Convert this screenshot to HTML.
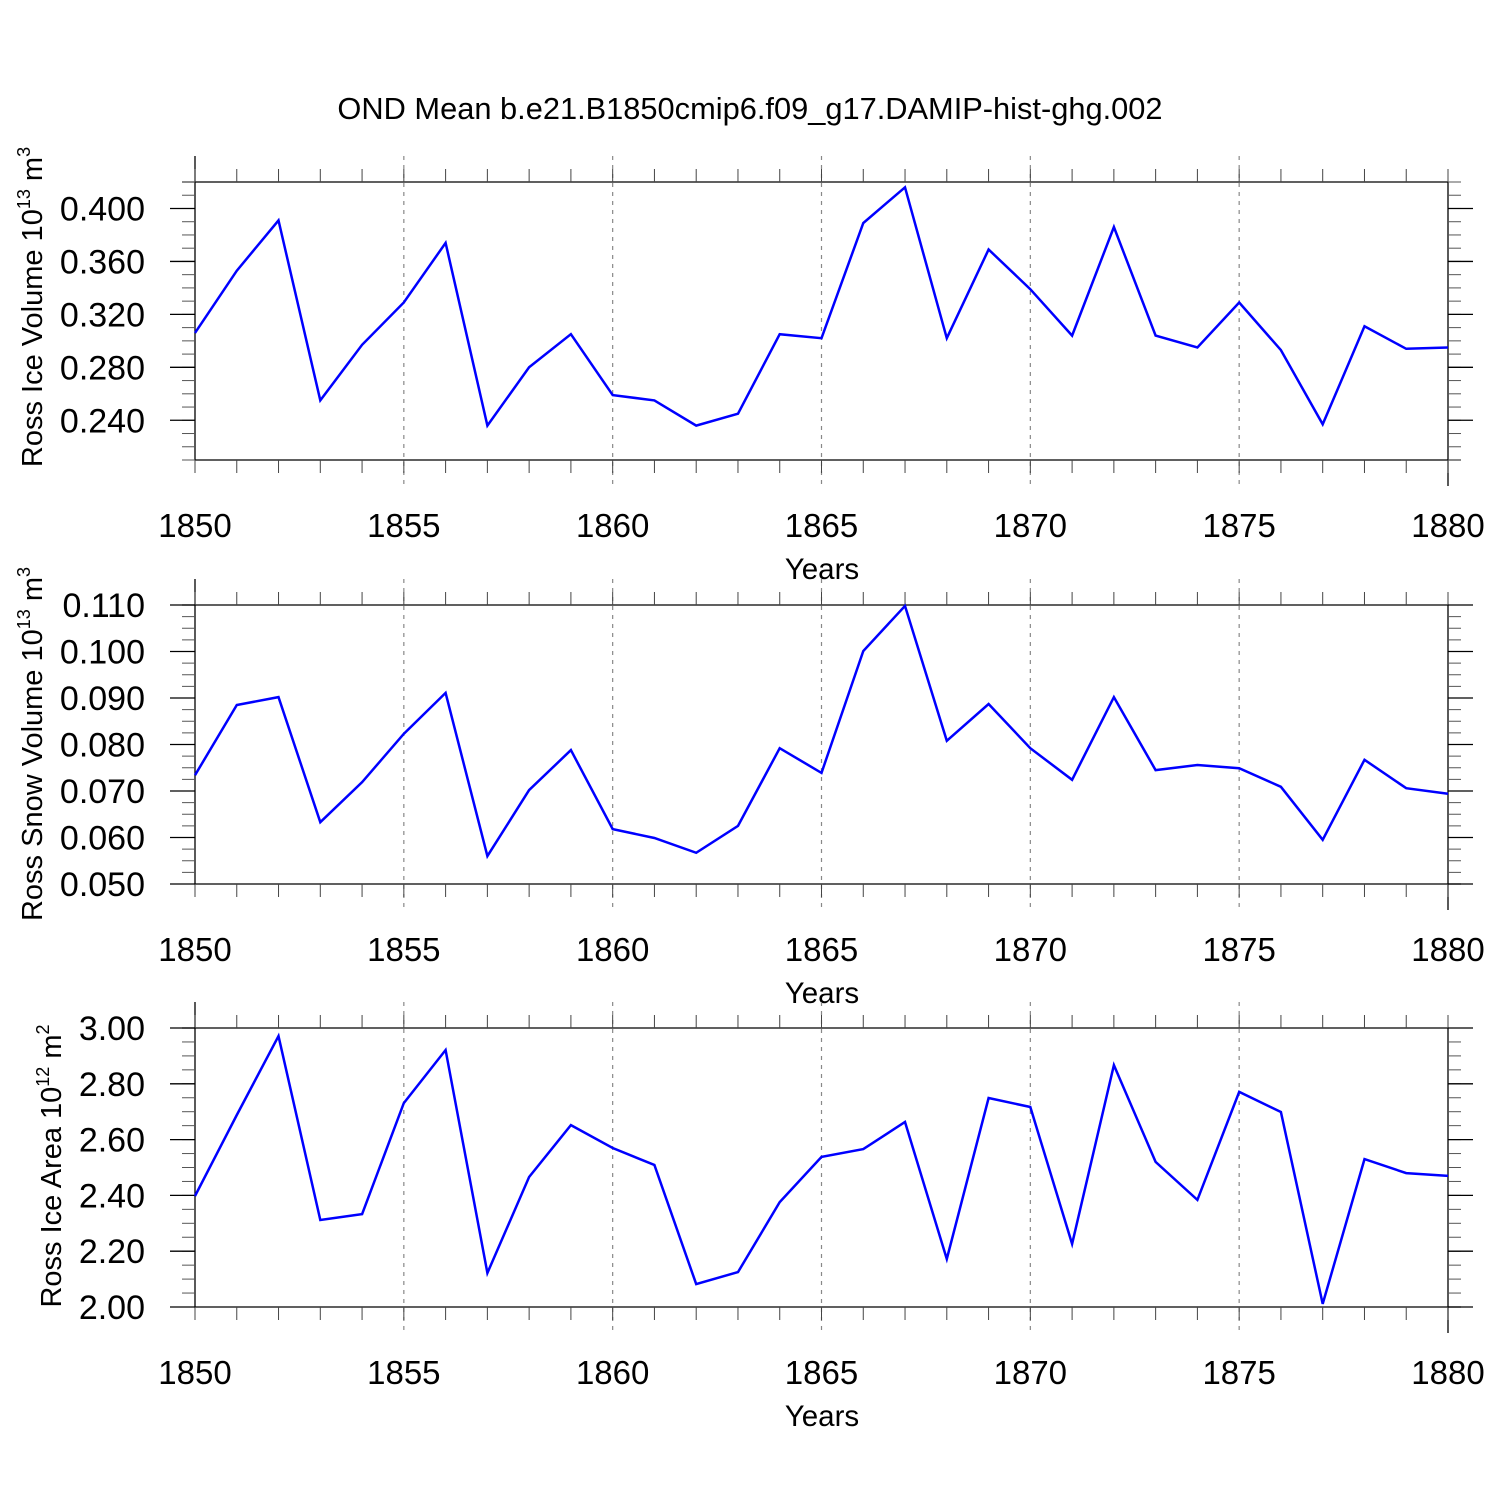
<!DOCTYPE html>
<html><head><meta charset="utf-8"><style>
html,body{margin:0;padding:0;background:#fff;}
svg{display:block;font-family:"Liberation Sans",Arial,sans-serif;}
</style></head><body>
<svg id="chart" width="1500" height="1500" viewBox="0 0 1500 1500" xmlns="http://www.w3.org/2000/svg">
<text x="750" y="119" text-anchor="middle" font-size="30.8">OND Mean b.e21.B1850cmip6.f09_g17.DAMIP-hist-ghg.002</text>
</svg>
<script>
const years = [1850,1851,1852,1853,1854,1855,1856,1857,1858,1859,1860,1861,1862,1863,1864,1865,1866,1867,1868,1869,1870,1871,1872,1873,1874,1875,1876,1877,1878,1879,1880];
const iceVolume = [0.306,0.353,0.391,0.255,0.297,0.329,0.374,0.236,0.280,0.305,0.259,0.255,0.236,0.245,0.305,0.302,0.389,0.416,0.302,0.369,0.339,0.304,0.386,0.304,0.295,0.329,0.293,0.237,0.311,0.294,0.295];
const snowVolume = [0.0734,0.0885,0.0902,0.0633,0.0719,0.0823,0.0911,0.0560,0.0702,0.0788,0.0618,0.0599,0.0567,0.0625,0.0792,0.0739,0.1001,0.1098,0.0808,0.0887,0.0792,0.0724,0.0902,0.0745,0.0756,0.0749,0.0709,0.0595,0.0767,0.0706,0.0694];
const iceArea = [2.398,2.688,2.971,2.312,2.333,2.731,2.921,2.122,2.466,2.652,2.570,2.509,2.082,2.125,2.376,2.538,2.566,2.663,2.172,2.749,2.717,2.226,2.867,2.520,2.384,2.771,2.699,2.011,2.530,2.480,2.470];
const xTickLabels = ["1850","1855","1860","1865","1870","1875","1880"];
const iceVolTicks = ["0.240","0.280","0.320","0.360","0.400"];
const snowTicks = ["0.050","0.060","0.070","0.080","0.090","0.100","0.110"];
const areaTicks = ["2.00","2.20","2.40","2.60","2.80","3.00"];

const svg = document.getElementById('chart');
const NS = 'http://www.w3.org/2000/svg';
function mk(tag, attrs, parent){const e=document.createElementNS(NS,tag);for(const k in attrs)e.setAttribute(k,attrs[k]);(parent||svg).appendChild(e);return e;}

const X0=195, X1=1448;
function xs(yr){return X0+(yr-1850)/30*(X1-X0);}

const panels = [
 {name:'ice-volume',top:182,bot:460,min:0.21,max:0.42,data:iceVolume,ticks:iceVolTicks,minor:0.01,title:'Ross Ice Volume 10',sup:'13',unit:' m',usup:'3',tx:42,ty:307},
 {name:'snow-volume',top:605,bot:884,min:0.05,max:0.11,data:snowVolume,ticks:snowTicks,minor:0.0025,title:'Ross Snow Volume 10',sup:'13',unit:' m',usup:'3',tx:42,ty:744},
 {name:'ice-area',top:1028,bot:1307,min:2.0,max:3.0,data:iceArea,ticks:areaTicks,minor:0.05,title:'Ross Ice Area 10',sup:'12',unit:' m',usup:'2',tx:61,ty:1166}
];

panels.forEach(p=>{
  const g = mk('g',{});
  
  
  const ys = v => p.bot-(v-p.min)/(p.max-p.min)*(p.bot-p.top);
  for(let yr=1855; yr<=1875; yr+=5){
    const l=mk('line',{x1:xs(yr),x2:xs(yr),y1:p.top-26,y2:p.bot+26,stroke:'#888','stroke-width':1.2,'stroke-dasharray':'4,5'},g);
    
    
  }
  mk('line',{x1:X0,x2:X0,y1:p.top-26,y2:p.bot,stroke:'#000','stroke-width':1.3},g);
  mk('line',{x1:X1,x2:X1,y1:p.top,y2:p.bot+26,stroke:'#000','stroke-width':1.3},g);
  mk('line',{x1:X0-13,x2:X1,y1:p.top,y2:p.top,stroke:'#000','stroke-width':1.3},g);
  mk('line',{x1:X0,x2:X1+13,y1:p.bot,y2:p.bot,stroke:'#000','stroke-width':1.3},g);
  years.forEach(yr=>{
    const x=xs(yr);
    mk('line',{x1:x,x2:x,y1:p.top,y2:p.top-13,stroke:'#444','stroke-width':1},g);
    mk('line',{x1:x,x2:x,y1:p.bot,y2:p.bot+13,stroke:'#444','stroke-width':1},g);
  });
  const n=Math.round((p.max-p.min)/p.minor);
  for(let i=0;i<=n;i++){
    const y=ys(p.min+i*p.minor);
    mk('line',{x1:X0,x2:X0-13,y1:y,y2:y,stroke:'#555','stroke-width':1},g);
    mk('line',{x1:X1,x2:X1+13,y1:y,y2:y,stroke:'#555','stroke-width':1},g);
  }
  p.ticks.forEach(t=>{
    const y=ys(parseFloat(t));
    mk('line',{x1:X0,x2:X0-25,y1:y,y2:y,stroke:'#000','stroke-width':1.3},g);
    mk('line',{x1:X1,x2:X1+25,y1:y,y2:y,stroke:'#000','stroke-width':1.3},g);
    const tx=mk('text',{x:145,y:y+12,'text-anchor':'end','font-size':34},g);
    tx.textContent=t;
    
    
  });
  xTickLabels.forEach(t=>{
    const tx=mk('text',{x:xs(parseInt(t)),y:p.bot+77,'text-anchor':'middle','font-size':33},g);
    tx.textContent=t;
    
    
  });
  const xt=mk('text',{x:822,y:p.bot+119,'text-anchor':'middle','font-size':29.5},g);
  xt.textContent='Years';
  
  
  const yt=mk('text',{transform:`translate(${p.tx},${p.ty}) rotate(-90)`,'text-anchor':'middle','font-size':29},g);
  
  
  const a=document.createElementNS(NS,'tspan');a.textContent=p.title;yt.appendChild(a);
  const b=document.createElementNS(NS,'tspan');b.setAttribute('dy','-12');b.setAttribute('font-size','18');b.textContent=p.sup;yt.appendChild(b);
  const c=document.createElementNS(NS,'tspan');c.setAttribute('dy','12');c.textContent=p.unit;yt.appendChild(c);
  const d=document.createElementNS(NS,'tspan');d.setAttribute('dy','-12');d.setAttribute('font-size','18');d.textContent=p.usup;yt.appendChild(d);
  const pts=years.map((yr,i)=>xs(yr).toFixed(1)+','+ys(p.data[i]).toFixed(1)).join(' ');
  const pl=mk('polyline',{points:pts,fill:'none',stroke:'#0000ff','stroke-width':2.5,'stroke-linejoin':'miter'},g);
  
  
});
</script>
</body></html>
